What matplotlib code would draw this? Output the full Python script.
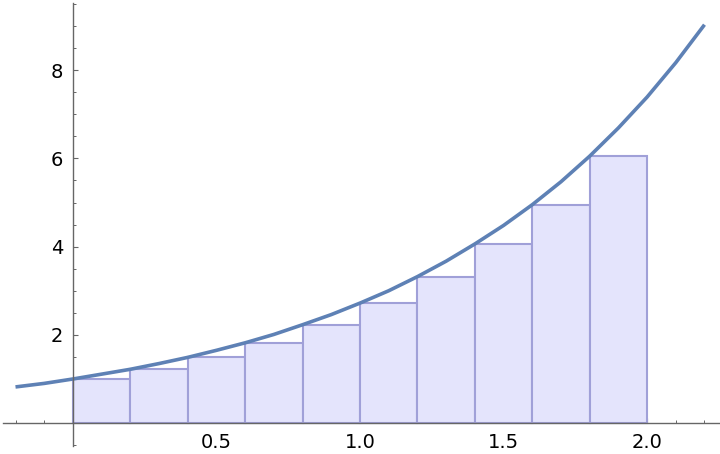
import numpy as np
import matplotlib.pyplot as plt
from matplotlib.ticker import MultipleLocator

# curve samples
curve_x = [-0.2, -0.1, 0.0, 0.1, 0.2, 0.3, 0.4, 0.5, 0.6, 0.7, 0.8, 0.9, 1.0,
           1.1, 1.2, 1.3, 1.4, 1.5, 1.6, 1.7, 1.8, 1.9, 2.0, 2.1, 2.2]
curve_y = [0.82, 0.90, 1.00, 1.11, 1.22, 1.35, 1.49, 1.65, 1.82, 2.01, 2.23, 2.46, 2.72,
           3.00, 3.32, 3.67, 4.06, 4.48, 4.95, 5.47, 6.05, 6.69, 7.39, 8.17, 9.03]

# rectangles (left edge, height)
bar_left = [0.0, 0.2, 0.4, 0.6, 0.8, 1.0, 1.2, 1.4, 1.6, 1.8]
bar_height = [1.00, 1.22, 1.49, 1.82, 2.23, 2.72, 3.32, 4.06, 4.95, 6.05]
bar_width = 0.2

fig = plt.figure(figsize=(7.2, 4.54), dpi=100)
ax = fig.add_axes([0, 0, 1, 1])

ax.bar(bar_left, bar_height, width=bar_width, align='edge',
       color='#e4e4fc', edgecolor='#a0a0d8', linewidth=1.5, zorder=2)
ax.plot(curve_x, curve_y, color='#5e81b5', linewidth=2.6, zorder=3,
        solid_capstyle='butt')

ax.set_xlim(-0.254, 2.254)
ax.set_ylim(-0.70, 9.59)

for s in ['top', 'right']:
    ax.spines[s].set_visible(False)
ax.spines['left'].set_position(('data', 0))
ax.spines['bottom'].set_position(('data', 0))
ax.spines['left'].set_bounds(-0.52, 9.52)
ax.spines['bottom'].set_bounds(-0.245, 2.25)
for s in ['left', 'bottom']:
    ax.spines[s].set_color('#666666')
    ax.spines[s].set_linewidth(1.0)
    ax.spines[s].set_zorder(4)

ax.set_xticks([0.5, 1.0, 1.5, 2.0])
ax.set_xticklabels(['0.5', '1.0', '1.5', '2.0'])
ax.set_yticks([2, 4, 6, 8])
ax.set_yticklabels(['2', '4', '6', '8'])
ax.xaxis.set_minor_locator(MultipleLocator(0.1))
ax.yaxis.set_minor_locator(MultipleLocator(0.5))
ax.tick_params(axis='both', which='major', direction='in', length=3.5,
               width=0.8, color='#666666', labelsize=14, labelcolor='black')
ax.tick_params(axis='both', which='minor', direction='in', length=2,
               width=0.7, color='#666666')
ax.tick_params(axis='x', which='major', pad=7)
ax.tick_params(axis='y', which='major', pad=7)

fig.savefig('out.png', dpi=100)
